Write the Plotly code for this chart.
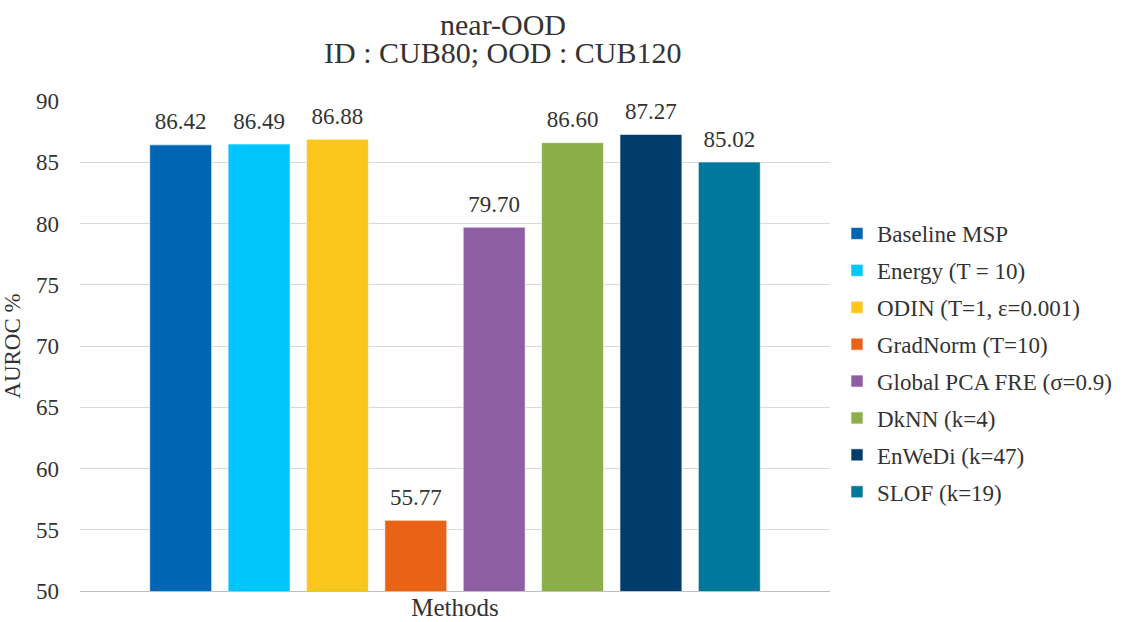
import plotly.graph_objects as go

methods = [
    "Baseline MSP",
    "Energy (T = 10)",
    "ODIN (T=1, ε=0.001)",
    "GradNorm (T=10)",
    "Global PCA FRE (σ=0.9)",
    "DkNN (k=4)",
    "EnWeDi (k=47)",
    "SLOF (k=19)",
]
auroc = [86.42, 86.49, 86.88, 55.77, 79.70, 86.60, 87.27, 85.02]
colors = ["#0065b3", "#00c6ff", "#fdc61b", "#e96317",
          "#8e5ea2", "#8cae48", "#003d6d", "#00789b"]
category = ["Methods"]
title_lines = ["near-OOD", "ID : CUB80; OOD : CUB120"]

FONT = "Liberation Serif"
TEXT = "#333333"

W, H = 1124, 622
L, R, T, B = 80, 294, 101, 31
plot_w = W - L - R
plot_h = H - T - B
GAP = 0.164


def paper_y(px):
    """Convert a pixel row (from the top) into paper coordinates."""
    return 1 + (T - px) / plot_h


def paper_x(px):
    """Convert a pixel column (from the left) into paper coordinates."""
    return (px - L) / plot_w


fig = go.Figure()
for i, (name, val, col) in enumerate(zip(methods, auroc, colors)):
    fig.add_trace(go.Bar(
        x=category,
        y=[val],
        name=name,
        legendgroup=f"g{i}",
        offsetgroup=f"g{i}",
        marker=dict(color=col, line=dict(color="rgba(255,255,255,0.6)", width=1)),
        cliponaxis=False,
    ))

# value labels above each bar, sharing the bars' group slots
for i, val in enumerate(auroc):
    fig.add_trace(go.Scatter(
        x=category,
        y=[val],
        mode="markers+text",
        marker=dict(size=14, opacity=0),
        text=[f"{val:.2f}"],
        textposition="top center",
        textfont=dict(family=FONT, size=23, color=TEXT),
        offsetgroup=f"g{i}",
        showlegend=False,
        hoverinfo="skip",
        cliponaxis=False,
    ))

# two-line title, centred on the chart area
for line, py in zip(title_lines, [25, 53]):
    fig.add_annotation(
        text=line, xref="paper", yref="paper",
        x=paper_x(503), y=paper_y(py), xanchor="center", yanchor="middle",
        showarrow=False,
        font=dict(family=FONT, size=30, color=TEXT),
    )

fig.update_layout(
    width=W,
    height=H,
    barmode="group",
    bargap=GAP,
    bargroupgap=0.21,
    scattermode="group",
    scattergap=GAP,
    plot_bgcolor="white",
    paper_bgcolor="white",
    font=dict(family=FONT, color=TEXT),
    margin=dict(l=L, r=R, t=T, b=B, autoexpand=False),
    legend=dict(
        x=paper_x(837),
        y=paper_y(363),
        xanchor="left",
        yanchor="middle",
        font=dict(family=FONT, size=23, color=TEXT),
        tracegroupgap=4,
        itemwidth=30,
        bgcolor="rgba(0,0,0,0)",
    ),
    yaxis=dict(
        title=dict(text="AUROC %", font=dict(family=FONT, size=23, color=TEXT), standoff=10),
        range=[50, 90],
        dtick=5,
        showgrid=True,
        gridcolor="#d9d9d9",
        gridwidth=1,
        zeroline=False,
        showline=False,
        ticks="",
        ticklabelstandoff=20,
        tickfont=dict(family=FONT, size=23, color=TEXT),
        automargin=False,
    ),
    xaxis=dict(
        showline=True,
        linecolor="#bfbfbf",
        linewidth=1,
        ticks="",
        ticklabelstandoff=-6,
        tickfont=dict(family=FONT, size=25, color=TEXT),
        automargin=False,
    ),
)

fig.write_html("out.html")
